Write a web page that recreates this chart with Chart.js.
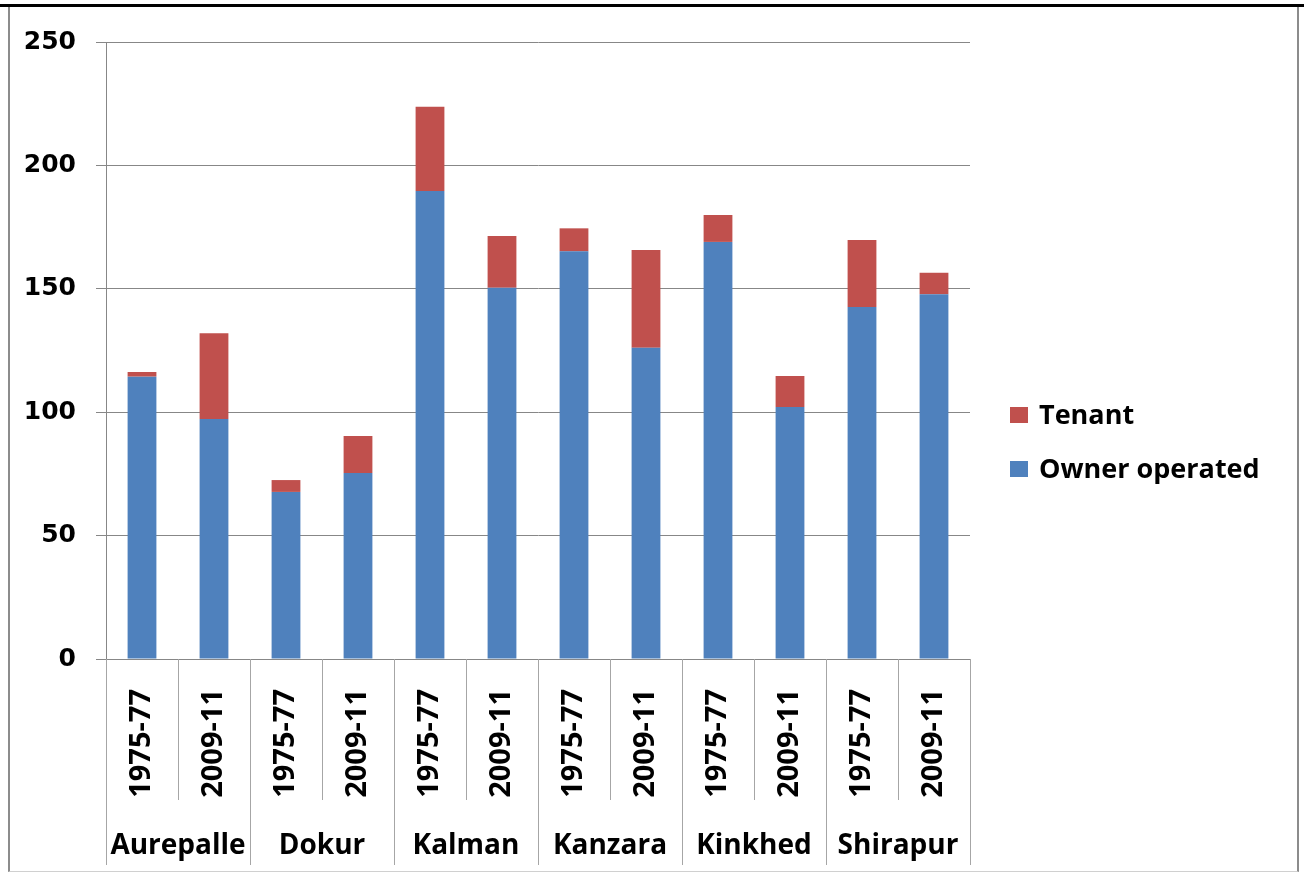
<!DOCTYPE html>
<html>
<head>
<meta charset="utf-8">
<script src="https://cdn.jsdelivr.net/npm/chart.js@4.4.1/dist/chart.umd.min.js"></script>
<style>
  html, body { margin: 0; padding: 0; background: #fff; }
  .wrap { position: relative; width: 1304px; height: 875px; overflow: hidden; }
  .topbar { position: absolute; left: 0; top: 4px; width: 1304px; height: 3px; background: #000; }
  .frame { position: absolute; left: 8px; top: 7px; width: 1287px; height: 864px;
           border-left: 2px solid #8c8c8c; border-right: 2px solid #8c8c8c; border-bottom: 1px solid #d0d0d0; }
  canvas { position: absolute; left: 0; top: 0; }
  .legend { position: absolute; left: 1010px; top: 397px; font: bold 27px "Open Sans", sans-serif; color: #000; }
  .legend div { height: 54px; line-height: 34px; white-space: nowrap; }
  .legend span { display: inline-block; width: 18px; height: 16px; margin-right: 11px; vertical-align: 1px; }
</style>
</head>
<body>
<div class="wrap">
  <div class="topbar"></div>
  <div class="frame"></div>
  <canvas id="chart" width="1304" height="875"></canvas>
  <div class="legend" id="legend"></div>
</div>
<script>
// villages, each with two survey periods
const villages = ['Aurepalle', 'Dokur', 'Kalman', 'Kanzara', 'Kinkhed', 'Shirapur'];
const periods = ['1975-77', '2009-11',
                 '1975-77', '2009-11',
                 '1975-77', '2009-11',
                 '1975-77', '2009-11',
                 '1975-77', '2009-11',
                 '1975-77', '2009-11'];

const ownerOperated = [114.4, 97.2, 67.7, 75.4, 189.6, 150.4, 165.2, 126.1, 169.0, 102.1, 142.6, 147.8];
const tenant        = [1.9, 34.8, 4.8, 15.0, 34.2, 21.0, 9.3, 39.6, 10.9, 12.6, 27.2, 8.7];

const yTicks = [0, 50, 100, 150, 200, 250];

const blue = '#4F81BD', red = '#C0504D';
const lineGrey = '#a6a6a6';

// separators between the category labels below the plot
const separators = {
  id: 'separators',
  afterDraw(chart) {
    const ctx = chart.ctx;
    const x = chart.scales.x, x2 = chart.scales.x2;
    const top = chart.chartArea.bottom;
    ctx.save();
    ctx.strokeStyle = lineGrey;
    ctx.lineWidth = 1;
    for (let i = -1; i < periods.length; i++) {
      const px = Math.round(x.getPixelForValue(i + 0.5)) + 0.5;
      const groupEdge = (i + 1) % 2 === 0;
      ctx.beginPath();
      ctx.moveTo(px, top);
      ctx.lineTo(px, groupEdge ? x2.bottom : x.bottom);
      ctx.stroke();
    }
    ctx.restore();
  }
};

const chart = new Chart(document.getElementById('chart'), {
  type: 'bar',
  data: {
    labels: periods,
    datasets: [
      { label: 'Owner operated', data: ownerOperated, backgroundColor: blue },
      { label: 'Tenant', data: tenant, backgroundColor: red }
    ]
  },
  options: {
    responsive: false,
    animation: false,
    layout: { padding: { left: 0, top: 42, right: 334, bottom: 10 } },
    datasets: { bar: { barPercentage: 0.4, categoryPercentage: 1.0 } },
    plugins: { legend: { display: false }, tooltip: { enabled: false } },
    scales: {
      y: {
        stacked: true,
        min: 0, max: 250,
        afterBuildTicks: s => { s.ticks = yTicks.map(v => ({ value: v })); },
        afterFit: s => { s.width = 106; },
        grid: { color: '#878787', tickLength: 10, tickColor: '#878787' },
        border: { color: '#878787' },
        ticks: { color: '#000', padding: 20, font: { family: 'DejaVu Sans', weight: 'bold', size: 25 } }
      },
      x: {
        stacked: true,
        offset: true,
        weight: 1,
        afterFit: s => { s.height = 141; },
        grid: { display: false },
        border: { display: false },
        ticks: {
          color: '#000', autoSkip: false, minRotation: 90, maxRotation: 90, padding: 22,
          font: { family: 'Open Sans', weight: 'bold', size: 29 }
        }
      },
      x2: {
        type: 'category',
        labels: villages,
        position: 'bottom',
        offset: true,
        weight: 2,
        afterFit: s => { s.height = 65; },
        grid: { display: false },
        border: { display: false },
        ticks: {
          color: '#000', autoSkip: false, maxRotation: 0, padding: 21,
          font: { family: 'Open Sans', weight: 'bold', size: 28 }
        }
      }
    }
  },
  plugins: [separators]
});

// legend: Tenant on top, like the stacking order
const $legend = document.getElementById('legend');
chart.data.datasets.slice().reverse().forEach(ds => {
  const row = document.createElement('div');
  const box = document.createElement('span');
  box.style.background = ds.backgroundColor;
  row.appendChild(box);
  row.appendChild(document.createTextNode(ds.label));
  $legend.appendChild(row);
});
</script>
</body>
</html>
